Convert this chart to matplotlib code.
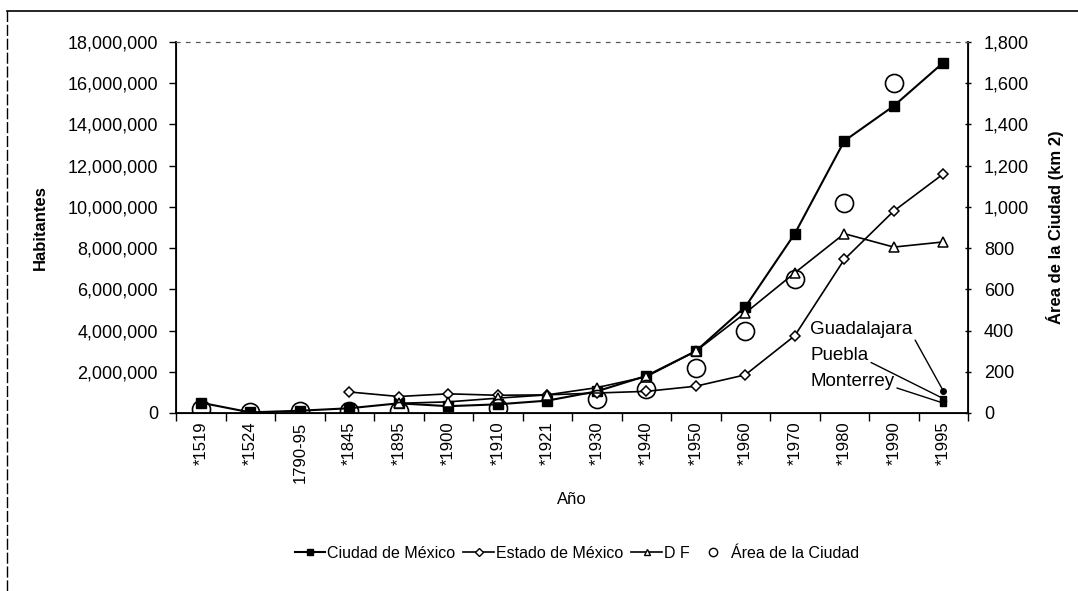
import numpy as np
import matplotlib
matplotlib.use("Agg")
import matplotlib.pyplot as plt
from matplotlib.ticker import FuncFormatter
from matplotlib.lines import Line2D

plt.rcParams['font.family'] = ['Liberation Sans', 'DejaVu Sans']

anios = ["*1519", "*1524", "1790-95", "*1845", "*1895", "*1900", "*1910", "*1921",
         "*1930", "*1940", "*1950", "*1960", "*1970", "*1980", "*1990", "*1995"]

ciudad = [500000, 30000, 110000, 230000, 470000, 330000, 420000, 600000,
          1050000, 1800000, 3000000, 5150000, 8700000, 13200000, 14900000, 17000000]
estado = [np.nan, np.nan, np.nan, 1020000, 800000, 930000, 860000, 880000,
          970000, 1050000, 1300000, 1850000, 3750000, 7450000, 9800000, 11600000]
df = [np.nan, np.nan, np.nan, np.nan, 470000, 540000, 720000, 880000,
      1230000, 1760000, 3000000, 4850000, 6800000, 8700000, 8050000, 8300000]
area = [20, 3, 10, 10, 12, np.nan, 25, np.nan,
        70, 117, 220, 400, 650, 1020, 1600, np.nan]

# ciudades de comparacion, solo 1995
otras = ["Guadalajara", "Puebla", "Monterrey"]
otras_valor = [1070000, 700000, 480000]
otras_marca = ["o", "s", "s"]

x = np.arange(len(anios))

fig = plt.figure(figsize=(10.78, 5.91), dpi=100)
ax = fig.add_axes([0.1633, 0.3012, 0.7347, 0.6277])
ax2 = ax.twinx()

ax.plot(x, ciudad, color="black", lw=1.5, marker="s", ms=7, mfc="black", mec="black")
ax.plot(x, estado, color="black", lw=1.2, marker="D", ms=5.5, mfc="white", mec="black", mew=1.1)
ax.plot(x, df, color="black", lw=1.2, marker="^", ms=7, mfc="white", mec="black", mew=1.1)
ax2.plot(x, area, ls="none", marker="o", ms=13, mfc="none", mec="black", mew=1.2)

for nombre, v, m in zip(otras, otras_valor, otras_marca):
    ax.plot(x[-1], v, marker=m, ms=4, color="black")

ax.set_xlim(-0.5, len(anios) - 0.5)
ax.set_ylim(0, 18000000)
ax2.set_ylim(0, 1800)
ax.set_yticks(np.arange(0, 18000001, 2000000))
ax2.set_yticks(np.arange(0, 1801, 200))
ax.yaxis.set_major_formatter(FuncFormatter(lambda v, p: f"{int(v):,}"))
ax2.yaxis.set_major_formatter(FuncFormatter(lambda v, p: f"{int(v):,}"))

ax.set_xticks(x)
ax.set_xticklabels(anios, rotation=90, fontsize=12)
ax.set_xticks(np.arange(-0.5, len(anios)), minor=True)
ax.tick_params(axis="x", which="major", length=0, pad=6)
ax.tick_params(axis="x", which="minor", length=6, direction="out", width=1)
ax.tick_params(axis="y", labelsize=13, length=5, width=1, direction="out", pad=8)
ax2.tick_params(axis="y", labelsize=13, length=5, width=1, direction="inout", pad=9)

for s in ["left", "bottom"]:
    ax.spines[s].set_linewidth(1.3)
ax2.spines["right"].set_linewidth(1.3)
for a in (ax, ax2):
    a.spines["top"].set_linestyle((0, (3, 6)))
    a.spines["top"].set_linewidth(0.8)
    a.spines["top"].set_color("#555555")

ax.set_ylabel("Habitantes", fontsize=12, fontweight="bold", labelpad=14)
ax2.set_ylabel("Área de la Ciudad (km 2)", fontsize=12, fontweight="bold", labelpad=12)
ax.set_xlabel("Año", fontsize=12, labelpad=7)

# etiquetas de las ciudades con flechas
txt_y = [330, 356, 382]
for nombre, v, ty in zip(otras, otras_valor, txt_y):
    ax.annotate(nombre, xy=(x[-1], v), xycoords="data",
                xytext=(810 / 1078, 1 - ty / 591), textcoords="figure fraction",
                fontsize=13.5, va="center", ha="left",
                arrowprops=dict(arrowstyle="-", color="black", lw=1, shrinkA=0, shrinkB=2,
                                relpos=(1, 0.2)))

handles = [
    Line2D([], [], color="black", lw=1.5, marker="s", ms=5),
    Line2D([], [], color="black", lw=1.2, marker="D", ms=4, mfc="white"),
    Line2D([], [], color="black", lw=1.2, marker="^", ms=5, mfc="white"),
    Line2D([], [], ls="none", marker="o", ms=6, mfc="none", mec="black"),
]
labels = ["Ciudad de México", "Estado de México", "D F", "Área de la Ciudad"]
fig.legend(handles, labels, loc="center", bbox_to_anchor=(0.535, 1 - 553 / 591),
           ncol=4, frameon=False, handlelength=1.9, handletextpad=0.15,
           columnspacing=0.5,
           prop={"family": ["Liberation Sans Narrow", "Liberation Sans"], "size": 11.5})

# marco del recuadro
fig.add_artist(Line2D([7 / 1078, 1], [1 - 11 / 591, 1 - 11 / 591], color="black", lw=1.2))
fig.add_artist(Line2D([7 / 1078, 7 / 1078], [0, 1 - 11 / 591], color="black", lw=1,
                      ls=(0, (8, 2))))

fig.savefig("out.png", dpi=100)
